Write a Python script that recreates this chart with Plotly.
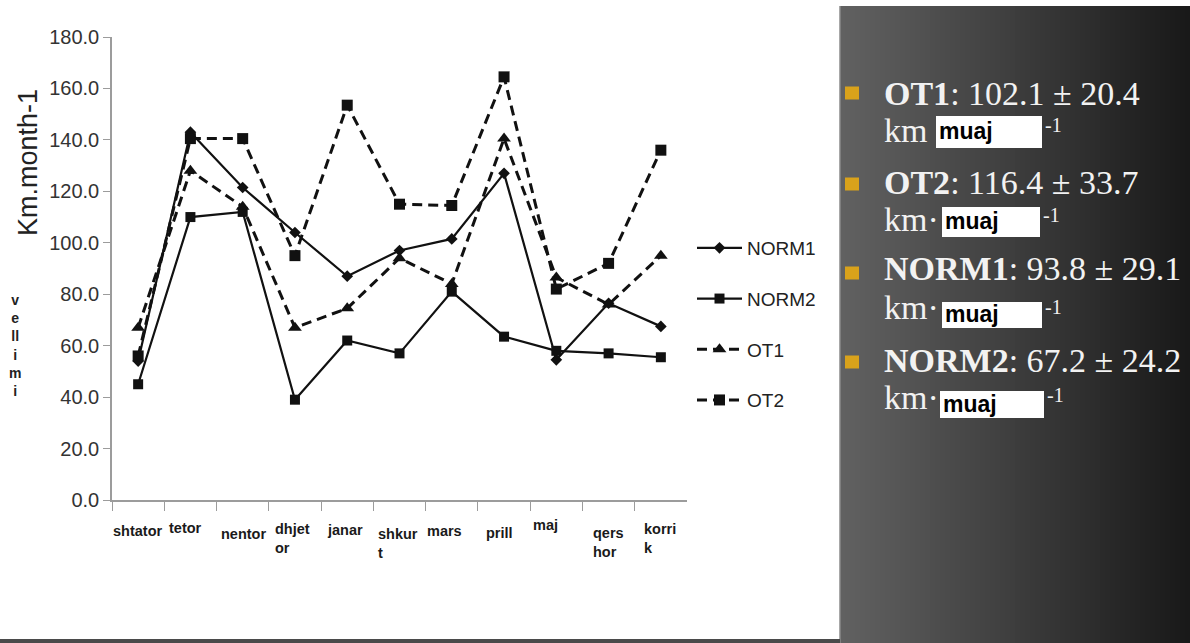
import plotly.graph_objects as go

# ---- data -------------------------------------------------------------
months = ["shtator", "tetor", "nentor", "dhjetor", "janar", "shkurt",
          "mars", "prill", "maj", "qershor", "korrik"]
month_text = ["shtator", "tetor", "nentor", "dhjet<br>or", "janar", "shkur<br>t",
              "mars", "prill", "maj", "qers<br>hor", "korri<br>k"]

norm1 = [54, 143, 121.5, 104, 87, 97, 101.5, 127, 54.5, 76.5, 67.5]
norm2 = [45, 110, 112, 39, 62, 57, 81, 63.5, 58, 57, 55.5]
ot1 = [67, 128, 114, 67, 74.5, 94, 84, 140.5, 86.5, 76, 95]
ot2 = [56, 140.5, 140.5, 95, 153.5, 115, 114.5, 164.5, 82, 92, 136]

y_ticks = [0, 20, 40, 60, 80, 100, 120, 140, 160, 180]

stat_names = ["OT1", "OT2", "NORM1", "NORM2"]
stat_values = ["102.1 ± 20.4", "116.4 ± 33.7", "93.8 ± 29.1", "67.2 ± 24.2"]
unit_prefix = ["km", "km·", "km·", "km·"]
unit_word = "muaj"
unit_power = "-1"

# ---- page geometry (pixels) ------------------------------------------
W, H = 1190, 643


def fx(p):
    return p / W


def fy(p):
    return 1 - p / H


SANS = "Liberation Sans, Arial, sans-serif"
SERIF = "Liberation Serif, Times New Roman, serif"
INK = "#111111"
AXIS_GREY = "#9c9c9c"

fig = go.Figure()

series = [
    ("NORM1", norm1, "solid", 2.2, "diamond", 9),
    ("NORM2", norm2, "solid", 2.2, "square", 10),
    ("OT1", ot1, "10px,6px", 3, "triangle-up", 12),
    ("OT2", ot2, "10px,6px", 3, "square", 11),
]
for name, vals, dash, lw, sym, ms in series:
    fig.add_trace(go.Scatter(
        x=months, y=vals, name=name, legendgroup=name,
        mode="lines+markers",
        line=dict(color=INK, width=lw, dash=dash),
        marker=dict(symbol=sym, size=ms, color=INK),
    ))

# ---- month labels under the category axis -----------------------------
# (xshift px, label centre y px, multi-line?)
label_pos = [(0, 531, False), (-5, 528, False), (1, 534, False), (-22, 538, True),
             (-2, 530, False), (-24, 543, True), (-7, 531, False), (-5, 533, False),
             (-11, 525, False), (-18, 542, True), (-19, 538, True)]
annotations = []
for m, txt, (dx, cy, multi) in zip(months, month_text, label_pos):
    annotations.append(dict(
        x=m, xref="x", y=fy(cy), yref="paper", text=txt, showarrow=False,
        xanchor="left" if multi else "center", yanchor="middle",
        align="left", xshift=dx,
        font=dict(family=SANS, size=14.5, color="#1a1a1a", weight="bold"),
    ))

# axis title and vertical side label
annotations.append(dict(
    x=fx(28), y=fy(163), xref="paper", yref="paper", text="Km.month-1",
    textangle=-90, showarrow=False, xanchor="center", yanchor="middle",
    font=dict(family=SANS, size=27, color="#222222"),
))
annotations.append(dict(
    x=fx(15), y=fy(346), xref="paper", yref="paper",
    text="v<br>e<br>ll<br>i<br>m<br>i", showarrow=False,
    xanchor="center", yanchor="middle", align="center",
    font=dict(family=SANS, size=14, color="#222222", weight="bold"),
))

shapes = []

# ---- dark summary panel with a horizontal gradient --------------------
x0, x1 = 840, 1190
n_strips = 70
c_left, c_right = 98, 24
for i in range(n_strips):
    a = x0 + (x1 - x0) * i / n_strips
    b = x0 + (x1 - x0) * (i + 1) / n_strips + 0.6
    t = (i + 0.5) / n_strips
    c = round(c_left + (c_right - c_left) * t)
    shapes.append(dict(type="rect", xref="paper", yref="paper",
                       x0=fx(a), x1=fx(min(b, x1)), y0=fy(643), y1=fy(6),
                       fillcolor=f"rgb({c},{c},{c})", line=dict(width=0),
                       layer="below"))
shapes.append(dict(type="line", xref="paper", yref="paper",
                   x0=fx(840), x1=fx(840), y0=fy(643), y1=fy(6),
                   line=dict(color="#8a8a8a", width=1.5), layer="below"))
# thin dark rule along the bottom edge
shapes.append(dict(type="rect", xref="paper", yref="paper",
                   x0=0, x1=fx(840), y0=fy(643), y1=fy(639),
                   fillcolor="#4a4a4a", line=dict(width=0), layer="below"))

# rows of the summary list:
# (title y, unit y, bullet y, box top, box bottom, box left, box right, power y)
rows = [
    (93, 130, 93, 116, 148, 936, 1042, 125),
    (183, 219, 184, 207, 237, 942, 1040, 215),
    (268, 307, 273, 302, 328, 942, 1042, 307),
    (360, 397, 362, 391, 418, 940, 1044, 395),
]
for name, val, pre, (ty, uy, by, bt, bb, bl, br, py_) in zip(
        stat_names, stat_values, unit_prefix, rows):
    shapes.append(dict(type="rect", xref="paper", yref="paper",
                       x0=fx(845), x1=fx(859), y0=fy(by + 6.5), y1=fy(by - 6.5),
                       fillcolor="#D9A21B", line=dict(width=0), layer="above"))
    annotations.append(dict(
        x=fx(882), y=fy(ty), xref="paper", yref="paper",
        text=f"<b>{name}</b>: {val}", showarrow=False,
        xanchor="left", yanchor="middle",
        font=dict(family=SERIF, size=34, color="#f2f2f2"),
    ))
    annotations.append(dict(
        x=fx(882), y=fy(uy), xref="paper", yref="paper",
        text=pre, showarrow=False, xanchor="left", yanchor="middle",
        font=dict(family=SERIF, size=34, color="#f2f2f2"),
    ))
    annotations.append(dict(
        x=fx(br + 1), y=fy(py_), xref="paper", yref="paper",
        text=unit_power, showarrow=False, xanchor="left", yanchor="middle",
        font=dict(family=SERIF, size=20, color="#f2f2f2"),
    ))
    shapes.append(dict(type="rect", xref="paper", yref="paper",
                       x0=fx(bl), x1=fx(br), y0=fy(bb), y1=fy(bt),
                       fillcolor="white", line=dict(width=0), layer="above"))
    annotations.append(dict(
        x=fx(bl + 1), y=fy((bt + bb) / 2 - 1), xref="paper", yref="paper",
        text=unit_word, showarrow=False, xanchor="left", yanchor="middle",
        font=dict(family=SANS, size=23, color="black", weight="bold"),
    ))

fig.update_layout(
    template="none",
    width=W, height=H,
    margin=dict(l=0, r=0, t=0, b=0, autoexpand=False),
    paper_bgcolor="white", plot_bgcolor="white",
    showlegend=True,
    legend=dict(
        x=fx(692), y=fy(229), xanchor="left", yanchor="top",
        bgcolor="rgba(0,0,0,0)", borderwidth=0, tracegroupgap=23,
        itemwidth=45,
        font=dict(family=SANS, size=19, color="#222222"),
    ),
    xaxis=dict(
        domain=[fx(112), fx(687)], type="category", automargin=False,
        categoryorder="array", categoryarray=months,
        range=[-0.5, len(months) - 0.5],
        showline=True, linecolor=AXIS_GREY, linewidth=1.5,
        ticks="outside", tickson="boundaries", ticklen=9,
        tickcolor=AXIS_GREY, tickwidth=1.2,
        showticklabels=False, showgrid=False, zeroline=False,
    ),
    yaxis=dict(
        domain=[fy(500), fy(37)], range=[0, 180], automargin=False,
        tickvals=y_ticks, tickformat=".1f",
        showline=True, linecolor=AXIS_GREY, linewidth=1.5,
        ticks="outside", ticklen=7, tickcolor=AXIS_GREY, tickwidth=1.2,
        tickfont=dict(family=SANS, size=20, color="#333333"),
        showgrid=False, zeroline=False,
    ),
    shapes=shapes,
    annotations=annotations,
)

fig.write_html("out.html")
